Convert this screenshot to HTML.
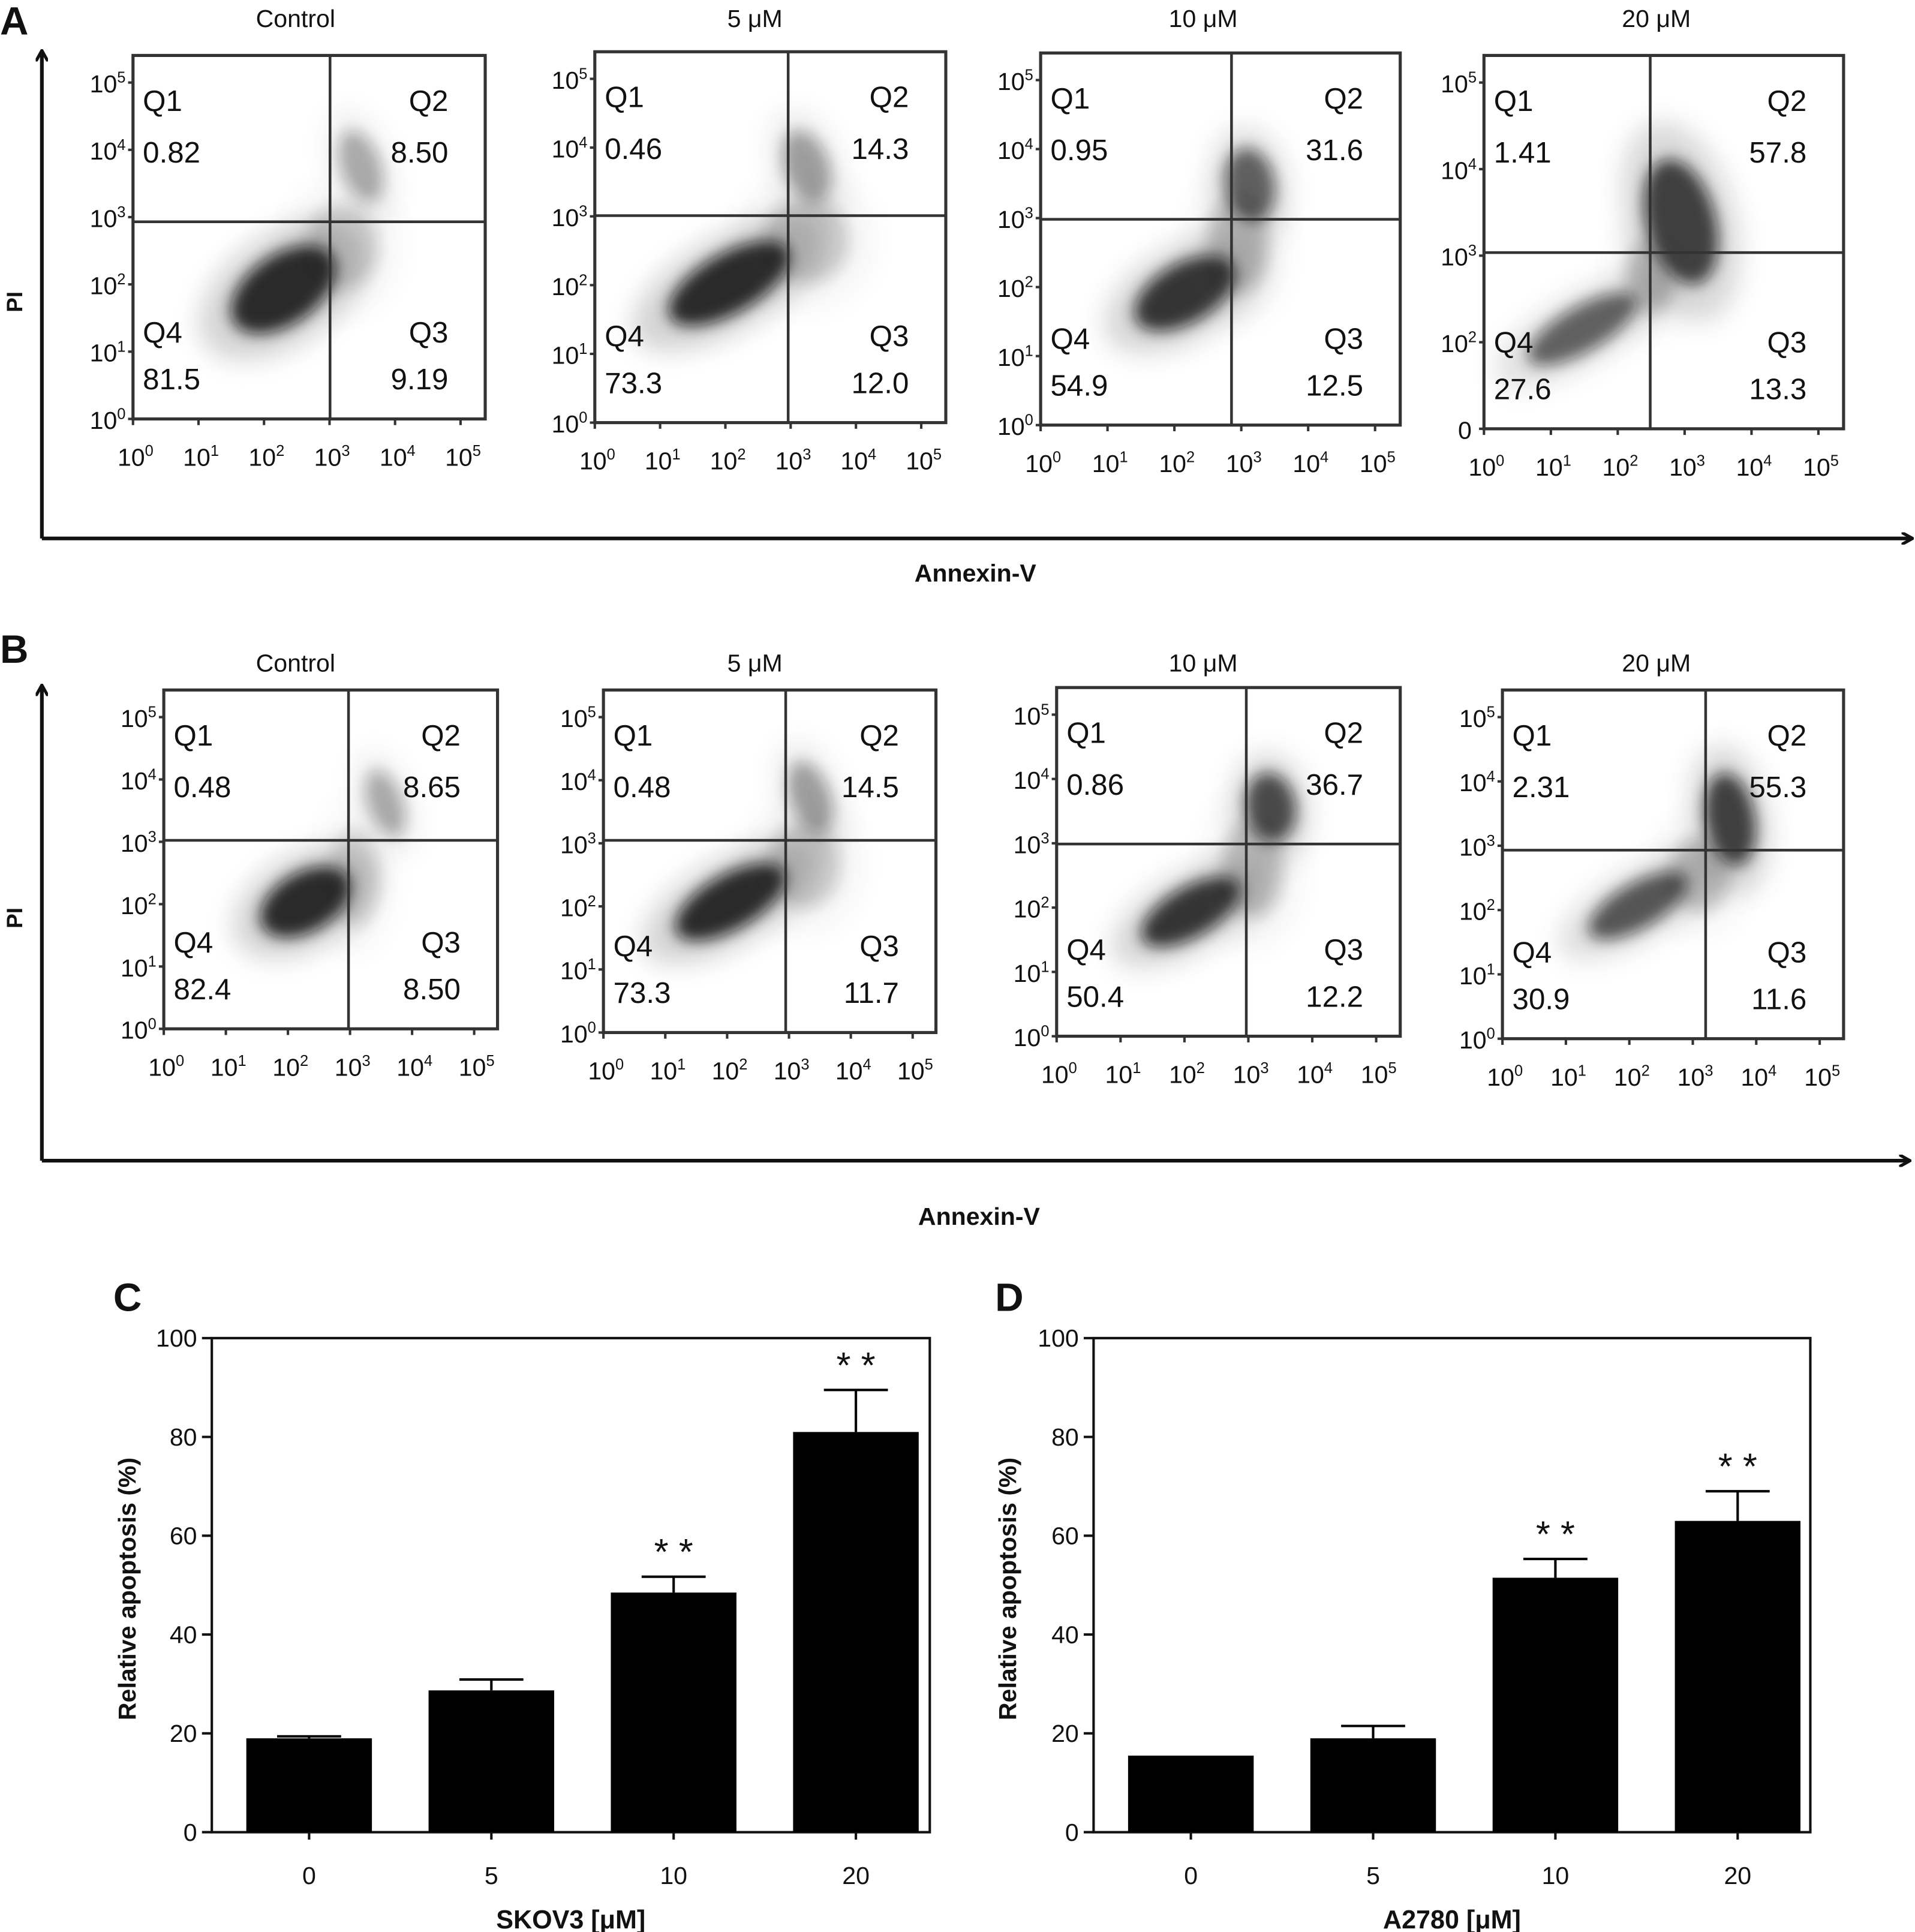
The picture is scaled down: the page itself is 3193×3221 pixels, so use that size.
<!DOCTYPE html>
<html><head><meta charset="utf-8">
<style>
html,body{margin:0;padding:0;background:#fff;}
svg{display:block;}
text{font-family:"Liberation Sans",sans-serif;fill:#111;}
</style></head>
<body>
<svg id="fig" width="3193" height="3221" viewBox="0 0 1555 1568" preserveAspectRatio="none" xmlns="http://www.w3.org/2000/svg">
<defs>
<filter id="blur3" x="-50%" y="-50%" width="200%" height="200%"><feGaussianBlur stdDeviation="6"/></filter>
<filter id="blur8" x="-50%" y="-50%" width="200%" height="200%"><feGaussianBlur stdDeviation="10"/></filter>
<marker id="arr" markerWidth="10" markerHeight="10" refX="8" refY="5" orient="auto" markerUnits="userSpaceOnUse"><path d="M0,0 L9,5 L0,10" fill="none" stroke="#111" stroke-width="2.5"/></marker>
</defs>
</svg>
<script>
// ---------- Flow cytometry quadrant data ----------
const flowConcs = ["Control","5 μM","10 μM","20 μM"];
const flowQ1A = ["0.82","0.46","0.95","1.41"];
const flowQ2A = ["8.50","14.3","31.6","57.8"];
const flowQ3A = ["9.19","12.0","12.5","13.3"];
const flowQ4A = ["81.5","73.3","54.9","27.6"];
const flowQ1B = ["0.48","0.48","0.86","2.31"];
const flowQ2B = ["8.65","14.5","36.7","55.3"];
const flowQ3B = ["8.50","11.7","12.2","11.6"];
const flowQ4B = ["82.4","73.3","50.4","30.9"];
// ---------- Bar chart data ----------
const catsC = ["0","5","10","20"];
const valsC = [19, 28.7, 48.5, 81];
const errC = [0.4, 2.2, 3.2, 8.5];
const sigC = ["", "", "**", "**"];
const catsD = ["0","5","10","20"];
const valsD = [15.5, 19, 51.5, 63];
const errD = [0, 2.5, 3.8, 6];
const sigD = ["", "", "**", "**"];
const yTicks = [0,20,40,60,80,100];

const svg = document.getElementById('fig');
const NS = "http://www.w3.org/2000/svg";
function mk(tag, attrs, parent){
  const e = document.createElementNS(NS, tag);
  for (const k in attrs) e.setAttribute(k, attrs[k]);
  (parent||svg).appendChild(e);
  return e;
}
function txt(x,y,s,size,anchor,weight,parent){
  const t = mk('text',{x:x,y:y,'font-size':size,'text-anchor':anchor||'start','font-weight':weight||'normal'},parent);
  t.textContent = s;
  return t;
}

[["A",0,28],["B",0,538],["C",92,1064],["D",808,1064]].forEach(function(p){
  const t = txt(p[1],p[2],p[0],32,'start','bold');
  
  
});
function bigAxes(yTop,yBot,xEnd,piY,annX,annY,tag){
  const v = mk('line',{x1:34,y1:yBot,x2:34,y2:yTop,stroke:'#111','stroke-width':3,'marker-end':'url(#arr)'});
  
  
  const h = mk('line',{x1:34,y1:yBot,x2:xEnd,y2:yBot,stroke:'#111','stroke-width':3,'marker-end':'url(#arr)'});
  
  
  const p = txt(0,0,"PI",18,'middle','bold');
  p.setAttribute('transform','translate(18,'+piY+') rotate(-90)');
  
  
  const a = txt(annX,annY,"Annexin-V",20,'middle','bold');
  
  
}
bigAxes(42,437,1552,245,792,472,'a');
bigAxes(557,942,1550,745,795,994,'b');

const layA = [[108,45,394,340,268,180,240,22],[483,42,768,343,640,175,613,22],[845,43,1137,345,1000,178,977,22],[1205,45,1497,348,1340,205,1345,22]];
const layB = [[133,560,404,835,283,682,240,545],[490,560,760,838,638,682,613,545],[858,558,1137,841,1012,685,977,545],[1220,560,1497,843,1385,690,1345,545]];
const cloudsA = [
 [[-38,55,48,28,-35,0.85],[25,-45,16,30,-20,0.3],[10,20,30,35,0,0.15]],
 [[-48,55,55,24,-30,0.85],[15,-40,18,30,-20,0.35],[15,20,35,35,0,0.17]],
 [[-38,60,45,24,-30,0.8],[15,-28,20,30,-10,0.6],[5,20,25,40,0,0.2]],
 [[-55,62,50,18,-30,0.6],[25,-25,28,52,-15,0.75],[0,20,20,30,0,0.2]]];
const cloudsB = [
 [[-35,50,40,24,-30,0.85],[30,-30,14,28,-20,0.3],[5,30,20,40,0,0.13]],
 [[-45,50,50,22,-30,0.85],[20,-35,16,30,-20,0.35],[15,20,30,35,0,0.17]],
 [[-45,55,45,20,-30,0.8],[20,-30,20,28,-10,0.7],[5,20,25,40,0,0.2]],
 [[-55,45,45,18,-30,0.65],[20,-25,20,38,-10,0.75],[-5,20,25,30,0,0.2]]];

function sup(x,y,exp,size,anchor,parent,name){
  const t = mk('text',{x:x,y:y,'font-size':size,'text-anchor':anchor},parent);
  
  
  const a = document.createElementNS(NS,'tspan'); a.textContent='10'; t.appendChild(a);
  const b = document.createElementNS(NS,'tspan'); b.setAttribute('dy',-8); b.setAttribute('font-size',size*0.62); b.textContent=exp; t.appendChild(b);
}

function flowPlot(L,cl,i,q1,q2,q3,q4,tag){
  const g = mk('g',{});
  
  
  const [x0,y0,x1,y1,vx,hy,tx,ty] = L;
  const t = txt(tx,ty,flowConcs[i],20,'middle','normal',g);
  
  
  cl.forEach(function(c){
    const h = mk('ellipse',{cx:vx+c[0],cy:hy+c[1],rx:c[2]*1.6,ry:c[3]*1.6,fill:'#555',opacity:c[5]*0.3,filter:'url(#blur8)',transform:'rotate('+c[4]+' '+(vx+c[0])+' '+(hy+c[1])+')'},g);
    
    
    const e = mk('ellipse',{cx:vx+c[0],cy:hy+c[1],rx:c[2],ry:c[3],fill:'#111',opacity:c[5],filter:'url(#blur3)',transform:'rotate('+c[4]+' '+(vx+c[0])+' '+(hy+c[1])+')'},g);
    
    
  });
  const box = mk('rect',{x:x0,y:y0,width:x1-x0,height:y1-y0,fill:'none',stroke:'#333','stroke-width':2.5},g);
  
  
  const lv = mk('line',{x1:vx,y1:y0,x2:vx,y2:y1,stroke:'#333','stroke-width':2.2},g);
  
  
  const lh = mk('line',{x1:x0,y1:hy,x2:x1,y2:hy,stroke:'#333','stroke-width':2.2},g);
  
  
  const fs=24;
  [["Q1",x0+8,y0+45,'start'],[q1,x0+8,y0+87,'start'],["Q2",x1-30,y0+45,'end'],[q2,x1-30,y0+87,'end'],
   ["Q4",x0+8,y1-62,'start'],[q4,x0+8,y1-24,'start'],["Q3",x1-30,y1-62,'end'],[q3,x1-30,y1-24,'end']].forEach(function(q,k){
    const tt = txt(q[1],q[2],q[0],fs,q[3],'normal',g);
    
    
  });
  const special = (tag==='a' && i===3);
  const nY = special ? 5 : 6;
  const yt = y0+22, yb = y1;
  for (let k=0;k<nY;k++){
    const y = yt + (yb-yt)*k/(nY-1);
    const exp = String(5-k);
    if (special && k===nY-1){
      const z = txt(x0-10,y+8,"0",20,'end','normal',g);
      
      
    } else {
      sup(x0-6,y+8,exp,20,'end',g,'y-tick-label');
    }
    mk('line',{x1:x0-4,y1:y,x2:x0,y2:y,stroke:'#333','stroke-width':2},g);
  }
  const xl = x0, xr = x0 + (x1-x0)*0.93;
  for (let k=0;k<6;k++){
    const x = xl + (xr-xl)*k/5;
    sup(x+2,y1+38,String(k),20,'middle',g,'x-tick-label');
    mk('line',{x1:x,y1:y1,x2:x,y2:y1+5,stroke:'#333','stroke-width':2},g);
  }
}
for (let i=0;i<4;i++){
  flowPlot(layA[i],cloudsA[i],i,flowQ1A[i],flowQ2A[i],flowQ3A[i],flowQ4A[i],'a');
  flowPlot(layB[i],cloudsB[i],i,flowQ1B[i],flowQ2B[i],flowQ3B[i],flowQ4B[i],'b');
}

function barChart(cfg, cats, vals, errs, sig, tag){
  const g = mk('g',{});
  
  
  const {x0,x1,y0,y1,xTitle,yTitleX} = cfg;
  const yScale = v => y1 - (v/100)*(y1-y0);
  const xScale = i => x0 + 79 + 148*i;
  const frame = mk('rect',{x:x0,y:y0,width:x1-x0,height:y1-y0,fill:'none',stroke:'#111','stroke-width':2},g);
  
  
  yTicks.forEach(function(v){
    const y = yScale(v);
    mk('line',{x1:x0-8,y1:y,x2:x0,y2:y,stroke:'#111','stroke-width':2},g);
    const t = txt(x0-12,y+7,String(v),20,'end','normal',g);
    
    
  });
  const bw = 102;
  cats.forEach(function(c,i){
    const cx = xScale(i);
    const b = mk('rect',{x:cx-bw/2,y:yScale(vals[i]),width:bw,height:y1-yScale(vals[i]),fill:'#000'},g);
    
    
    if (errs[i]>0){
      const yt = yScale(vals[i]+errs[i]);
      const e1 = mk('line',{x1:cx,y1:yScale(vals[i]),x2:cx,y2:yt,stroke:'#000','stroke-width':2},g);
      
      
      mk('line',{x1:cx-26,y1:yt,x2:cx+26,y2:yt,stroke:'#000','stroke-width':2},g);
    }
    if (sig[i]){
      const s = txt(cx,yScale(vals[i]+errs[i])-10,"* *",30,'middle','normal',g);
      
      
    }
    mk('line',{x1:cx,y1:y1,x2:cx,y2:y1+6,stroke:'#111','stroke-width':2},g);
    const xt = txt(cx,y1+42,c,20,'middle','normal',g);
    
    
  });
  const xtT = txt((x0+x1)/2,y1+78,xTitle,21,'middle','bold',g);
  
  
  const yt = txt(0,0,"Relative apoptosis (%)",20,'middle','bold',g);
  yt.setAttribute('transform','translate('+yTitleX+','+((y0+y1)/2+3)+') rotate(-90)');
  
  
}
barChart({x0:172,x1:755,y0:1086,y1:1487,xTitle:"SKOV3 [μM]",yTitleX:110}, catsC, valsC, errC, sigC, 'c');
barChart({x0:888,x1:1470,y0:1086,y1:1487,xTitle:"A2780 [μM]",yTitleX:825}, catsD, valsD, errD, sigD, 'd');
</script>
</body></html>
